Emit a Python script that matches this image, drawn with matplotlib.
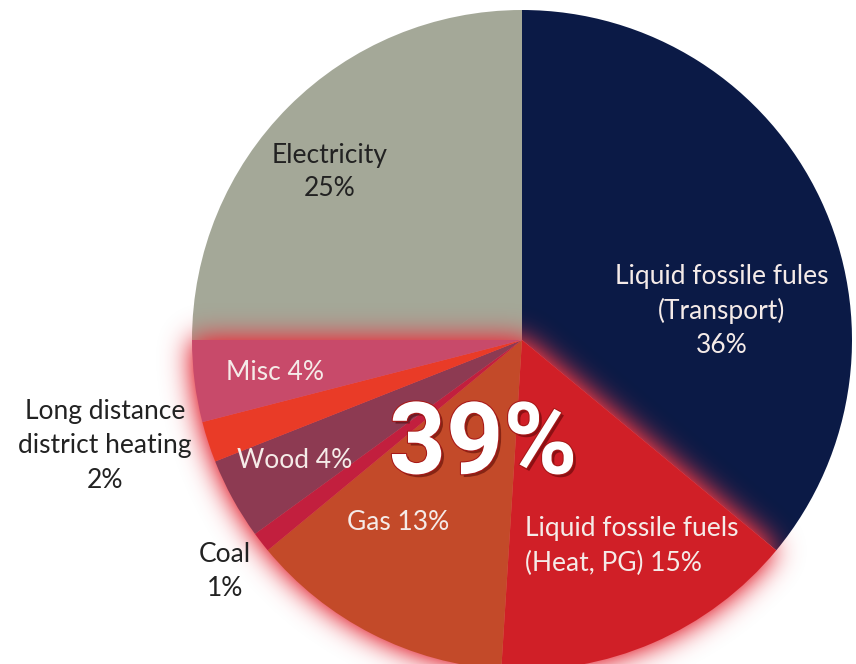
import numpy as np
import matplotlib
matplotlib.use("Agg")
import matplotlib.pyplot as plt
import matplotlib.patheffects as pe

# energy use by source, % (clockwise from 12 o'clock)
labels = ["Liquid fossile fules\n(Transport)\n{}%",
          "Liquid fossile fuels\n(Heat, PG) {}%",
          "Gas {}%",
          "Coal\n{}%",
          "Wood {}%",
          "Long distance\ndistrict heating\n{}%",
          "Misc {}%",
          "Electricity\n{}%"]
shares = [36, 15, 13, 1, 4, 2, 4, 25]
colors = ["#0b1a46", "#d01f27", "#c34a29", "#c21f3e",
          "#8d3a52", "#e93b27", "#c84a6a", "#a4a898"]
# slices that make up the highlighted heating block
highlight = [1, 2, 3, 4, 5, 6]

W, H = 856, 664
CX, CY, R = 522, 340, 330


def px(x, y):
    # pixel position -> pie units
    return (x - CX) / R, (CY - y) / R


def blur(a, sigma):
    t = np.arange(-3 * sigma, 3 * sigma + 1)
    k = np.exp(-0.5 * (t / sigma) ** 2)
    k /= k.sum()
    a = np.apply_along_axis(lambda m: np.convolve(m, k, mode="same"), 0, a)
    a = np.apply_along_axis(lambda m: np.convolve(m, k, mode="same"), 1, a)
    return a


fig = plt.figure(figsize=(W / 100, H / 100), dpi=100)
ax = fig.add_axes([0, 0, 1, 1])

wedges, _ = ax.pie(shares, colors=colors, startangle=90, counterclock=False,
                   radius=1, center=(0, 0), wedgeprops=dict(linewidth=0))

x0, y1 = px(0, 0)
x1, y0 = px(W, H)
ax.set_xlim(x0, x1)
ax.set_ylim(y0, y1)
ax.set_aspect("auto")
ax.axis("off")

# red glow around the highlighted block
start = 90 - 360 * shares[0] / 100
end = 90 - 360 * (shares[0] + sum(shares[i] for i in highlight)) / 100
xs = np.linspace(x0, x1, W)
ys = np.linspace(y0, y1, H)
gx, gy = np.meshgrid(xs, ys)
ang = np.degrees(np.arctan2(gy, gx))
ang = np.where(ang > start, ang - 360, ang)
mask = ((np.hypot(gx, gy) <= 1.0) & (ang <= start) & (ang >= end)).astype(float)
g = blur(mask, 14)
alpha = np.clip(g * 1.9, 0, 1) * 0.8
glow = np.zeros((H, W, 4))
glow[..., 0] = 0.90
glow[..., 1] = 0.22
glow[..., 2] = 0.27
glow[..., 3] = alpha
ax.imshow(glow, extent=(x0, x1, y0, y1), origin="lower", zorder=2,
          interpolation="bilinear", aspect="auto")
for i in highlight:
    wedges[i].set_zorder(3)

font = "Lato"
light = "#f5ebe8"
dark = "#222222"
txt = dict(fontsize=19, family=font, linespacing=1.45, zorder=5)

ax.text(*px(722, 311), labels[0].format(shares[0]), color=light,
        ha="center", va="center", **txt)
ax.text(*px(525, 546), labels[1].format(shares[1]), color=light,
        ha="left", va="center", **txt)
ax.text(*px(398, 522), labels[2].format(shares[2]), color=light,
        ha="center", va="center", **txt)
ax.text(*px(225, 572), labels[3].format(shares[3]), color=dark,
        ha="center", va="center", **txt)
ax.text(*px(295, 460), labels[4].format(shares[4]), color=light,
        ha="center", va="center", **txt)
ax.text(*px(105, 446), labels[5].format(shares[5]), color=dark,
        ha="center", va="center", **txt)
ax.text(*px(275, 372), labels[6].format(shares[6]), color=light,
        ha="center", va="center", **txt)
ax.text(*px(330, 172), labels[7].format(shares[7]), color=dark,
        ha="center", va="center", **txt)

total = sum(shares[i] for i in highlight)
ax.text(*px(483, 446), f"{total}%", color="white", fontsize=72,
        family="Roboto", fontweight="bold", ha="center", va="center",
        zorder=6,
        path_effects=[pe.SimplePatchShadow(offset=(2, -2), shadow_rgbFace="#4a0000", alpha=0.5),
                      pe.withStroke(linewidth=1.5, foreground="#a81818")])

fig.savefig("out.png", dpi=100)
